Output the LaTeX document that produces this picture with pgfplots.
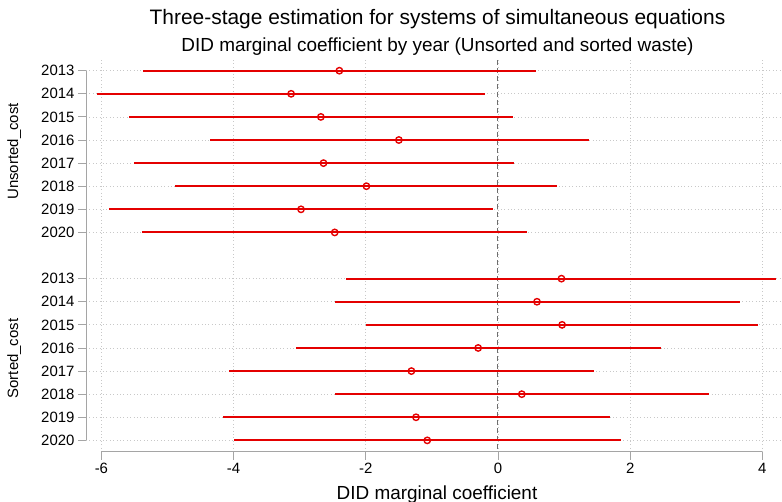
\documentclass[border=0pt]{standalone}
\usepackage{fontspec}
\setmainfont{Liberation Sans}
\usepackage{pgfplots}
\usepackage{pgfplotstable}
\pgfplotsset{compat=1.18}

\definecolor{ciRed}{RGB}{228,0,0}
\definecolor{spineGray}{RGB}{165,165,165}
\definecolor{gridGray}{RGB}{200,200,200}
\definecolor{zeroGray}{RGB}{110,110,110}

% estimates and 95% intervals, rows 1-8 = Unsorted_cost, 10-17 = Sorted_cost
\pgfplotstableread{
pos est lo hi
1 -2.40 -5.37 0.58
2 -3.13 -6.06 -0.19
3 -2.68 -5.58 0.22
4 -1.50 -4.36 1.37
5 -2.64 -5.51 0.24
6 -1.99 -4.88 0.90
7 -2.98 -5.89 -0.08
8 -2.47 -5.38 0.44
}\unsorted

\pgfplotstableread{
pos est lo hi
10 0.96 -2.30 4.21
11 0.59 -2.46 3.66
12 0.97 -2.00 3.94
13 -0.30 -3.06 2.47
14 -1.31 -4.07 1.46
15 0.36 -2.46 3.19
16 -1.24 -4.16 1.69
17 -1.07 -3.99 1.86
}\sorted

\begin{document}
\begin{tikzpicture}
\path[use as bounding box] (0,0) rectangle (782bp,502bp);

\begin{axis}[
  at={(86bp,50.3bp)}, anchor=south west,
  scale only axis,
  width=696bp, height=391.7bp,
  xmin=-6.233, xmax=4.297,
  ymin=0.537, ymax=17.49,
  y dir=reverse,
  clip=false,
  axis lines*=left,
  axis line style={draw=none},
  xtick={-6,-4,-2,0,2,4},
  xticklabels={-6,-4,-2,0,2,4},
  ytick={1,2,3,4,5,6,7,8,10,11,12,13,14,15,16,17},
  yticklabels={2013,2014,2015,2016,2017,2018,2019,2020,2013,2014,2015,2016,2017,2018,2019,2020},
  tick align=outside,
  major tick length=8bp,
  tick style={draw=spineGray, line width=0.9bp},
  ticklabel style={font=\fontsize{15}{18}\selectfont},
  xmajorgrids, ymajorgrids,
  major grid style={draw=gridGray, line width=0.8bp, dash pattern=on 0.8bp off 2.6bp},
  error bars/error bar style={draw=ciRed, line width=1.9bp},
]
% spines only across the tick range
\draw[spineGray, line width=1bp] (axis cs:-6.233,1) -- (axis cs:-6.233,17);
\draw[spineGray, line width=1bp] (axis cs:-6,17.49) -- (axis cs:4,17.49);
% zero reference line
\draw[zeroGray, line width=1bp, dash pattern=on 5bp off 3bp] (axis cs:0,0.537) -- (axis cs:0,17.49);

\addplot[only marks, mark=o, mark size=3.2bp, ciRed,
  mark options={line width=1.4bp},
  error bars/.cd, x dir=both, x explicit, error mark=none]
  table[x=est, y=pos,
    x error plus expr=\thisrow{hi}-\thisrow{est},
    x error minus expr=\thisrow{est}-\thisrow{lo}] {\unsorted};
\addplot[only marks, mark=o, mark size=3.2bp, ciRed,
  mark options={line width=1.4bp},
  error bars/.cd, x dir=both, x explicit, error mark=none]
  table[x=est, y=pos,
    x error plus expr=\thisrow{hi}-\thisrow{est},
    x error minus expr=\thisrow{est}-\thisrow{lo}] {\sorted};
\end{axis}

% titles and labels
\node[anchor=base, font=\fontsize{21}{25}\selectfont] at (437.5bp,477bp)
  {Three-stage estimation for systems of simultaneous equations};
\node[anchor=base, font=\fontsize{19}{23}\selectfont] at (437.5bp,450bp)
  {DID marginal coefficient by year (Unsorted and sorted waste)};
\node[anchor=base, font=\fontsize{19}{23}\selectfont] at (437bp,3bp)
  {DID marginal coefficient};
\node[rotate=90, font=\fontsize{15}{18}\selectfont] at (14.3bp,350.6bp) {Unsorted\_cost};
\node[rotate=90, font=\fontsize{15}{18}\selectfont] at (14.3bp,143.5bp) {Sorted\_cost};
\end{tikzpicture}
\end{document}
